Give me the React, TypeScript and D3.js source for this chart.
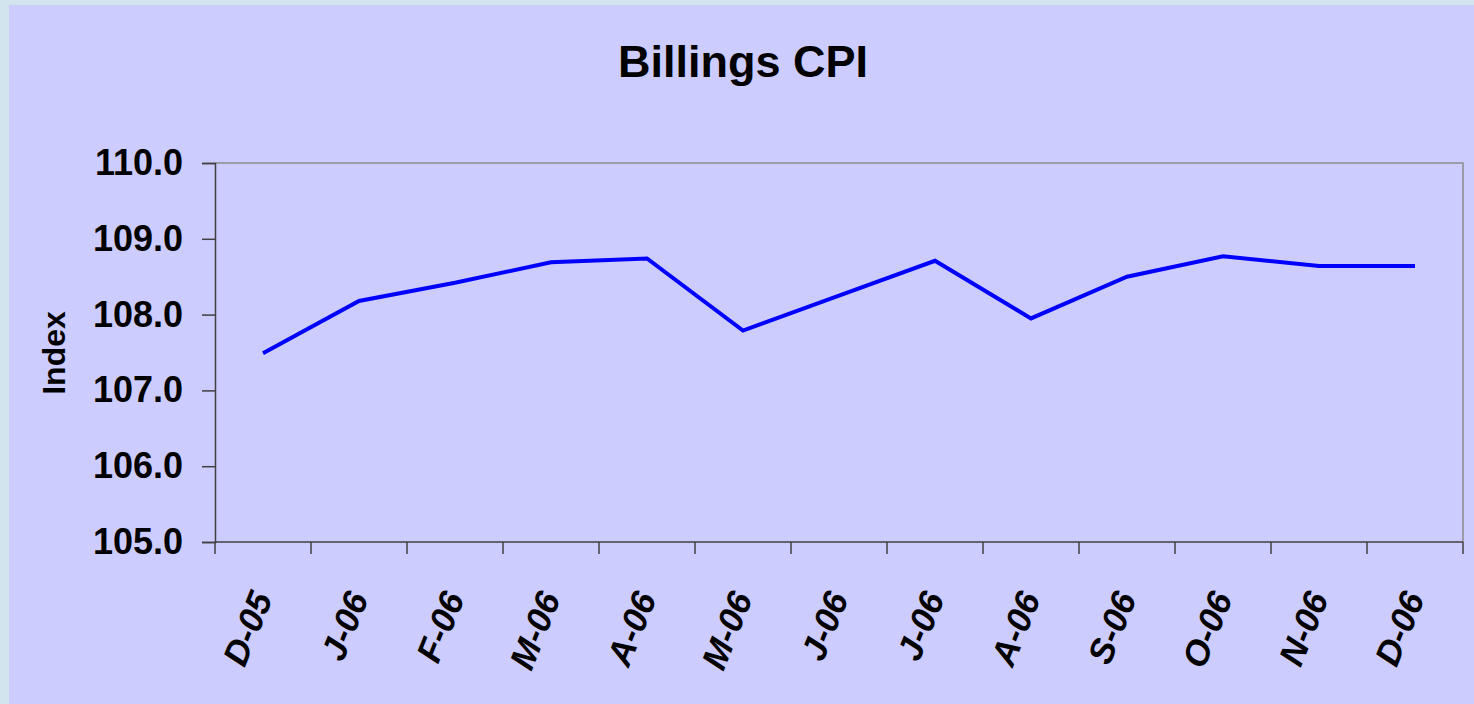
import * as d3 from "d3";
import React, { useEffect, useRef } from "react";

const months: string[] = [
    "D-05", "J-06", "F-06", "M-06", "A-06", "M-06", "J-06",
    "J-06", "A-06", "S-06", "O-06", "N-06", "D-06",
];
const cpiValues: number[] = [
    107.49, 108.18, 108.42, 108.69, 108.74, 107.79, 108.25,
    108.71, 107.95, 108.5, 108.77, 108.64, 108.64,
];
const yTicks: number[] = [105, 106, 107, 108, 109, 110];

const WIDTH = 1474;
const HEIGHT = 704;
const FONT = "Liberation Sans, Arial, sans-serif";

const App: React.FC = () => {
    const svgRef = useRef<SVGSVGElement>(null);

    useEffect(() => {
        if (!svgRef.current) return;
        const svg = d3.select(svgRef.current);
        svg.selectAll("*").remove();

        const plot = { left: 215, top: 163, right: 1463, bottom: 542 };

        // backgrounds
        svg.append("rect")
            .attr("width", WIDTH)
            .attr("height", HEIGHT)
            .attr("fill", "#D2E4EE");
        svg.append("rect")
            .attr("x", 9)
            .attr("y", 5)
            .attr("width", WIDTH - 9)
            .attr("height", HEIGHT - 5)
            .attr("fill", "#CCCCFF");

        const xScale = d3
            .scaleBand<number>()
            .domain(d3.range(months.length))
            .range([plot.left, plot.right]);

        const yScale = d3
            .scaleLinear()
            .domain([105, 110])
            .range([plot.bottom, plot.top]);

        // plot frame (top and right)
        svg.append("path")
            .attr("d", `M${plot.left},${plot.top}H${plot.right}V${plot.bottom}`)
            .attr("fill", "none")
            .attr("stroke", "#8C8C8C")
            .attr("stroke-width", 1.5);

        // y axis
        const yAxis = svg.append("g")
            .attr("transform", `translate(${plot.left},0)`)
            .call(
                d3.axisLeft(yScale)
                    .tickValues(yTicks)
                    .tickSize(13)
                    .tickPadding(19)
                    .tickFormat((d) => d3.format(".1f")(d as number))
            );
        yAxis.select(".domain").attr("stroke", "#404040").attr("stroke-width", 1.5);
        yAxis.selectAll(".tick line").attr("stroke", "#404040").attr("stroke-width", 1.5);
        yAxis.selectAll(".tick text")
            .attr("font-family", FONT)
            .attr("font-size", 36)
            .attr("font-weight", "bold")
            .attr("fill", "#000");

        // x axis: ticks on band boundaries
        const xAxis = svg.append("g")
            .attr("transform", `translate(0,${plot.bottom})`);
        xAxis.append("line")
            .attr("x1", plot.left)
            .attr("x2", plot.right)
            .attr("stroke", "#404040")
            .attr("stroke-width", 1.5);
        const bounds = d3.range(months.length + 1).map((i) =>
            i < months.length ? (xScale(i) as number) : plot.right
        );
        xAxis.selectAll("line.tick")
            .data(bounds)
            .join("line")
            .attr("class", "tick")
            .attr("x1", (d) => d)
            .attr("x2", (d) => d)
            .attr("y1", 0)
            .attr("y2", 12)
            .attr("stroke", "#404040")
            .attr("stroke-width", 1.5);
        xAxis.selectAll("text")
            .data(months)
            .join("text")
            .attr("transform", (_, i) => {
                const cx = (xScale(i) as number) + xScale.bandwidth() / 2 + 10;
                return `translate(${cx},56) rotate(-68)`;
            })
            .attr("text-anchor", "end")
            .attr("font-family", FONT)
            .attr("font-size", 35)
            .attr("font-weight", "bold")
            .attr("font-style", "italic")
            .attr("fill", "#000")
            .text((d) => d);

        // line
        const line = d3
            .line<number>()
            .x((_, i) => (xScale(i) as number) + xScale.bandwidth() / 2)
            .y((d) => yScale(d));
        svg.append("path")
            .datum(cpiValues)
            .attr("fill", "none")
            .attr("stroke", "#0000FF")
            .attr("stroke-width", 4)
            .attr("d", line);

        // title
        svg.append("text")
            .attr("x", 743)
            .attr("y", 77)
            .attr("text-anchor", "middle")
            .attr("font-family", FONT)
            .attr("font-size", 45)
            .attr("font-weight", "bold")
            .text("Billings CPI");

        // y label
        svg.append("text")
            .attr("transform", "translate(65,353) rotate(-90)")
            .attr("text-anchor", "middle")
            .attr("font-family", FONT)
            .attr("font-size", 32)
            .attr("font-weight", "bold")
            .text("Index");
    }, []);

    return (
        <svg
            ref={svgRef}
            width={WIDTH}
            height={HEIGHT}
            style={{ position: "absolute", left: 0, top: 0, display: "block" }}
        />
    );
};

export default App;
